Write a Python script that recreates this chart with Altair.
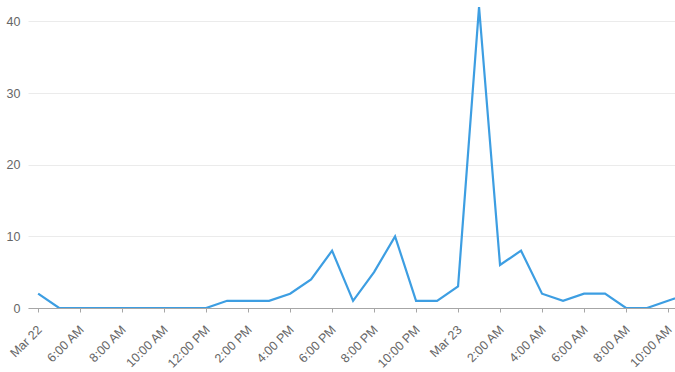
import altair as alt
import pandas as pd

start = "2020-03-22T04:00:00"
counts = [2, 0, 0, 0, 0, 0, 0, 0, 0, 1, 1, 1, 2, 4, 8, 1, 5, 10, 1, 1,
          3, 42, 6, 8, 2, 1, 2, 2, 0, 0, 1, 2]
tick_labels = ["Mar 22", "6:00 AM", "8:00 AM", "10:00 AM", "12:00 PM", "2:00 PM",
               "4:00 PM", "6:00 PM", "8:00 PM", "10:00 PM", "Mar 23", "2:00 AM",
               "4:00 AM", "6:00 AM", "8:00 AM", "10:00 AM"]

times = pd.date_range(start, periods=len(counts), freq="h")
df = pd.DataFrame({"time": times.strftime("%Y-%m-%dT%H:%M:%S"), "count": counts})

tick_times = pd.date_range(start, periods=len(tick_labels), freq="2h")
tick_ms = [int(t.value // 10**6) for t in tick_times]
ms_arr = "[" + ",".join(str(m) for m in tick_ms) + "]"
lab_arr = "[" + ",".join(f"'{l}'" for l in tick_labels) + "]"

x_min = "2020-03-22T03:31:00"
x_max = "2020-03-23T10:20:00"

font = "Liberation Sans"

chart = alt.Chart(df).mark_line(color="#3d9ee2", strokeWidth=2.2, clip=True).encode(
    x=alt.X("time:T", scale=alt.Scale(type="utc", domain=[x_min, x_max], nice=False),
            axis=alt.Axis(values=tick_ms,
                          labelExpr=f"{lab_arr}[indexof({ms_arr}, time(datum.value))]",
                          labelAngle=-45, labelAlign="right", labelBaseline="top",
                          grid=False, domainColor="#a6a6a6", tickColor="#a6a6a6",
                          tickSize=4, labelColor="#666666", labelFont=font,
                          labelFontSize=12.5, labelPadding=11, labelOffset=-3,
                          title=None, labelOverlap=False, labelFlush=False)),
    y=alt.Y("count:Q", scale=alt.Scale(domain=[0, 42], nice=False),
            axis=alt.Axis(values=[0, 10, 20, 30, 40], domain=False, ticks=False,
                          gridColor="#ebebeb", labelColor="#666666", labelFont=font,
                          labelFontSize=12.5, labelPadding=8, title=None)),
).properties(
    width=647, height=301,
    autosize=alt.AutoSizeParams(type="none"),
    padding={"left": 28, "top": 7, "right": 0, "bottom": 64},
).configure_view(stroke=None)

chart.save("out.html", embed_options={"renderer": "svg", "actions": False})
